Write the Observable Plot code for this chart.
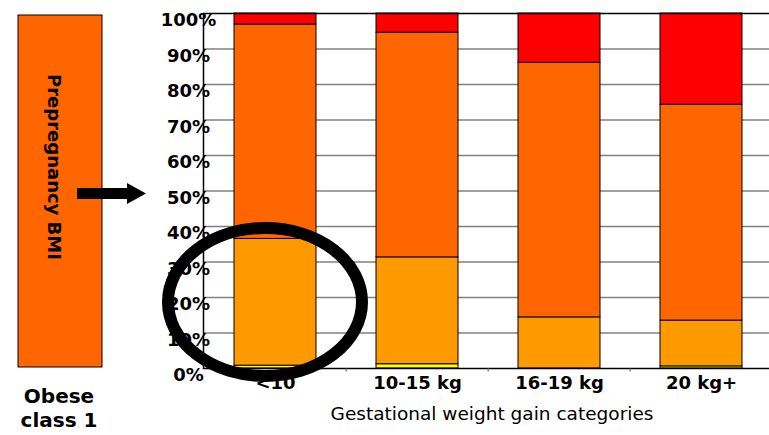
<!DOCTYPE html>
<html><head><meta charset="utf-8">
<script src="https://cdn.jsdelivr.net/npm/d3@7"></script>
<script src="https://cdn.jsdelivr.net/npm/@observablehq/plot@0.6"></script>
<style>
html,body{margin:0;padding:0;background:#fff;overflow:hidden;}
#wrap{position:relative;width:769px;height:435px;font-family:"DejaVu Sans",sans-serif;}
#wrap svg{position:absolute;left:0;top:0;}
</style></head><body><div id="wrap"></div>
<script>
// ---- data ----
const categories = ["<10", "10-15 kg", "16-19 kg", "20 kg+"];
const series = ["Normal", "Overweight", "Obese class 1", "Obese class 2+"];
const normal = [0.8, 1.2, 0, 0.6];
const overweight = [35.7, 30.1, 14.4, 12.9];
const obese1 = [60.4, 63.3, 71.7, 60.8];
const obese2 = [3.1, 5.4, 13.9, 25.7];
const colors = ["#FFFF00", "#FF9900", "#FF6600", "#FF0000"];
const yTicks = [0, 0.1, 0.2, 0.3, 0.4, 0.5, 0.6, 0.7, 0.8, 0.9, 1];
const xTitle = "Gestational weight gain categories";
const boxLabel = "Prepregnancy BMI";
const groupLabel = ["Obese", "class 1"];

const seriesValues = [normal, overweight, obese1, obese2];
const rows = [];
categories.forEach((c, i) => {
  series.forEach((s, j) => rows.push({category: c, series: s, value: seriesValues[j][i] / 100}));
});

const W = 769, H = 435;
const mL = 203, mR = -5, mT = 13, mB = 67;
const step = (W - mR - mL) / categories.length;

const plot = Plot.plot({
  width: W, height: H,
  marginLeft: mL, marginRight: mR, marginTop: mT, marginBottom: mB,
  style: {fontFamily: "DejaVu Sans, sans-serif", background: "transparent", color: "black"},
  x: {domain: categories, paddingInner: 0.42, paddingOuter: 0.21, axis: null, label: null},
  y: {domain: [0, 1], axis: null, label: null},
  color: {domain: series, range: colors},
  marks: [
    Plot.ruleY(yTicks.slice(1, -1), {stroke: "#808080", strokeWidth: 1.5}),
    Plot.barY(rows, {x: "category", y: "value", fill: "series", stroke: "black", strokeWidth: 1}),
    Plot.frame({stroke: "black", strokeWidth: 1.5}),
    Plot.ruleX(categories.slice(1), {x: d => d, dx: -step / 2, y1: 0, y2: -0.01, stroke: "#555"}),
    Plot.axisY({ticks: yTicks, tickFormat: d3.format(".0%"), tickSize: 0, tickPadding: 15,
      textAnchor: "middle", dy: 7, fontSize: 18, fontWeight: "bold", fill: "black", label: null}),
    Plot.axisX({tickSize: 0, tickPadding: 8, fontSize: 18, fontWeight: "bold", fill: "black", label: null}),
    Plot.text([xTitle], {frameAnchor: "bottom", dx: 3, dy: 51, fontSize: 18.5, fill: "black"})
  ]
});
document.getElementById("wrap").appendChild(plot);

// ---- annotations overlay ----
const ov = d3.select("#wrap").append("svg")
  .attr("width", W).attr("height", H)
  .style("font-family", "DejaVu Sans, sans-serif");

ov.append("rect").attr("x", 18).attr("y", 15).attr("width", 84).attr("height", 352)
  .attr("fill", "#FF6600").attr("stroke", "black").attr("stroke-width", 1);
ov.append("text").attr("transform", "translate(48,167) rotate(90)")
  .attr("text-anchor", "middle").attr("font-size", 18).attr("font-weight", "bold")
  .attr("fill", "black").text(boxLabel);
ov.append("path").attr("d", "M77,188 L127,188 L127,183 L146,193.5 L127,204 L127,199 L77,199 Z")
  .attr("fill", "black");
ov.selectAll("text.grp").data(groupLabel).join("text").attr("class", "grp")
  .attr("x", 59).attr("y", (d, i) => 403 + i * 24)
  .attr("text-anchor", "middle").attr("font-size", 20).attr("font-weight", "bold")
  .attr("fill", "black").text(d => d);
ov.append("ellipse").attr("cx", 265).attr("cy", 302).attr("rx", 97).attr("ry", 74)
  .attr("fill", "none").attr("stroke", "black").attr("stroke-width", 12);
</script></body></html>
